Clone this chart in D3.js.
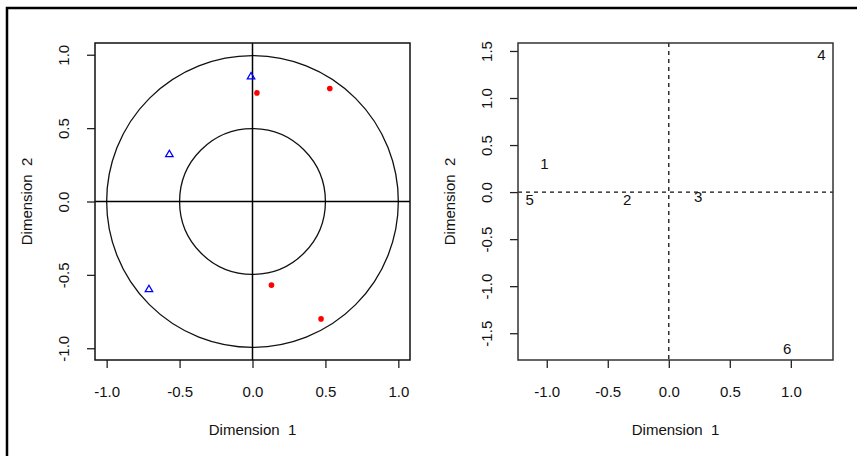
<!DOCTYPE html>
<html>
<head>
<meta charset="utf-8">
<script src="https://cdn.jsdelivr.net/npm/d3@7"></script>
<style>
  body { margin: 0; background: #fff; }
  svg { display: block; font-family: "Liberation Sans", Arial, sans-serif; }
</style>
</head>
<body>
<svg id="chart" width="857" height="456"></svg>
<script>
// left panel: variable coordinates
const triX = [-0.01, -0.57, -0.71];
const triY = [0.85, 0.32, -0.60];
const dotX = [0.03, 0.53, 0.13, 0.47];
const dotY = [0.74, 0.77, -0.57, -0.80];
const radii = [1, 0.5];
const leftTicks = [-1, -0.5, 0, 0.5, 1];

// right panel: object scores
const objNames = ["1", "2", "3", "4", "5", "6"];
const objX = [-1.02, -0.34, 0.24, 1.25, -1.14, 0.97];
const objY = [0.30, -0.08, -0.05, 1.46, -0.08, -1.66];
const rightXTicks = [-1, -0.5, 0, 0.5, 1];
const rightYTicks = [-1.5, -1, -0.5, 0, 0.5, 1, 1.5];

const svg = d3.select("#chart");
const fs = 15;
const fmt = d => d.toFixed(1); // plain hyphen minus, as in R

// outer frame
svg.append("path").attr("d", "M7,456 V8 H857")
  .attr("fill", "none").attr("stroke", "#000").attr("stroke-width", 2.5);

function pad(ext) {
  const r = ext[1] - ext[0];
  return [ext[0] - 0.04 * r, ext[1] + 0.04 * r];
}

function panel(box, xDom, yDom, xTicks, yTicks) {
  const x = d3.scaleLinear().domain(xDom).range([box.left, box.right]);
  const y = d3.scaleLinear().domain(yDom).range([box.bottom, box.top]);
  const g = svg.append("g");

  const xAxis = g.append("g").attr("transform", "translate(0," + box.bottom + ")")
    .call(d3.axisBottom(x).tickValues(xTicks).tickFormat(fmt).tickSize(8).tickPadding(18));
  const yAxis = g.append("g").attr("transform", "translate(" + box.left + ",0)")
    .call(d3.axisLeft(y).tickValues(yTicks).tickFormat(fmt).tickSize(8));
  [xAxis, yAxis].forEach(a => {
    a.select(".domain").remove();
    a.selectAll("line").attr("stroke", "#222").attr("stroke-width", 1.3);
    a.selectAll("text").attr("font-size", fs).attr("font-family", null).attr("fill", "#111");
  });
  // labels parallel to the axis, like R's las = 0
  yAxis.selectAll("text")
    .attr("text-anchor", "middle")
    .attr("x", 0).attr("y", 0).attr("dy", "0.35em")
    .attr("transform", "translate(-31.5,0) rotate(-90)");

  g.append("text").attr("x", (box.left + box.right) / 2).attr("y", 434.5)
    .attr("text-anchor", "middle").attr("font-size", fs).attr("fill", "#111")
    .attr("xml:space", "preserve").text("Dimension  1");
  g.append("text")
    .attr("transform", "translate(" + (box.left - 68) + "," + ((box.top + box.bottom) / 2) + ") rotate(-90)")
    .attr("text-anchor", "middle").attr("dy", "0.35em").attr("font-size", fs).attr("fill", "#111")
    .attr("xml:space", "preserve").text("Dimension  2");

  return { x, y, g };
}

// ---- left panel
const L = panel({ left: 95, right: 410, top: 43, bottom: 360 },
  pad([-1, 1]), pad([-1, 1]), leftTicks, leftTicks);

L.g.selectAll("circle.ref").data(radii).enter().append("circle")
  .attr("class", "ref")
  .attr("cx", L.x(0)).attr("cy", L.y(0))
  .attr("r", d => L.x(d) - L.x(0))
  .attr("fill", "none").attr("stroke", "#111").attr("stroke-width", 1.3);
L.g.append("line").attr("x1", 95).attr("x2", 410).attr("y1", L.y(0)).attr("y2", L.y(0))
  .attr("stroke", "#000").attr("stroke-width", 1.5);
L.g.append("line").attr("y1", 43).attr("y2", 360).attr("x1", L.x(0)).attr("x2", L.x(0))
  .attr("stroke", "#000").attr("stroke-width", 1.5);

const tri = d3.symbol().type(d3.symbolTriangle).size(24);
L.g.selectAll("path.tri").data(triX).enter().append("path")
  .attr("class", "tri")
  .attr("d", tri)
  .attr("transform", (d, i) => "translate(" + L.x(d) + "," + L.y(triY[i]) + ")")
  .attr("fill", "none").attr("stroke", "#0000ff").attr("stroke-width", 1.3);
L.g.selectAll("circle.dot").data(dotX).enter().append("circle")
  .attr("class", "dot")
  .attr("cx", d => L.x(d)).attr("cy", (d, i) => L.y(dotY[i]))
  .attr("r", 2.8).attr("fill", "#ff0000");

L.g.append("rect").attr("x", 95).attr("y", 43).attr("width", 315).attr("height", 317)
  .attr("fill", "none").attr("stroke", "#111").attr("stroke-width", 1.5);

// ---- right panel
const R = panel({ left: 518, right: 833, top: 43, bottom: 360 },
  pad(d3.extent(objX)), pad(d3.extent(objY)), rightXTicks, rightYTicks);

R.g.append("line").attr("x1", 518).attr("x2", 833).attr("y1", R.y(0)).attr("y2", R.y(0))
  .attr("stroke", "#111").attr("stroke-width", 1.3).attr("stroke-dasharray", "4,4");
R.g.append("line").attr("y1", 43).attr("y2", 360).attr("x1", R.x(0)).attr("x2", R.x(0))
  .attr("stroke", "#111").attr("stroke-width", 1.3).attr("stroke-dasharray", "4,4");

R.g.selectAll("text.obj").data(objNames).enter().append("text")
  .attr("class", "obj")
  .attr("x", (d, i) => R.x(objX[i])).attr("y", (d, i) => R.y(objY[i]))
  .attr("dy", "0.35em").attr("text-anchor", "middle")
  .attr("font-size", fs).attr("fill", "#111")
  .text(d => d);

R.g.append("rect").attr("x", 518).attr("y", 43).attr("width", 315).attr("height", 317)
  .attr("fill", "none").attr("stroke", "#333").attr("stroke-width", 1.5);
</script>
</body>
</html>
